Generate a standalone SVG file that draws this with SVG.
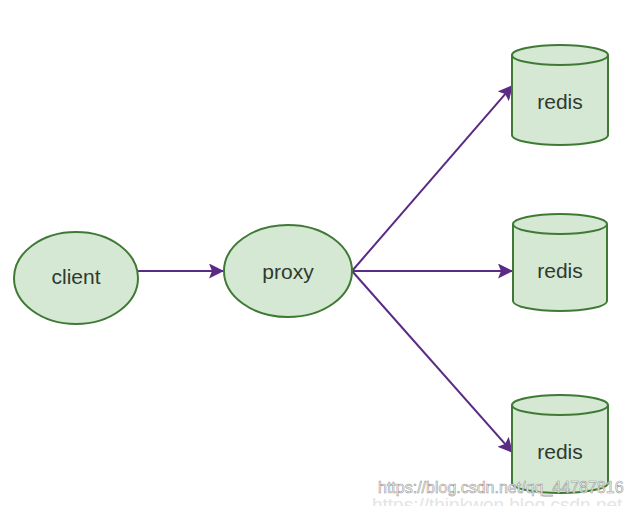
<svg xmlns="http://www.w3.org/2000/svg" width="631" height="506" viewBox="0 0 631 506">
<defs>
<style>
.node{fill:#d5e8d4;stroke:#3f7a35;stroke-width:2}
.lbl{font-family:"Liberation Sans",Arial,sans-serif;font-size:21px;fill:#2f3a2f;text-anchor:middle}
.edge{stroke:#5a2a84;stroke-width:2;fill:none}
.wm{font-family:"Liberation Sans",Arial,sans-serif}
</style>
<marker id="arr" viewBox="0 0 10 10" refX="10" refY="5" markerWidth="7.5" markerHeight="7.5" markerUnits="strokeWidth" orient="auto">
<path d="M0,0 L10,5 L0,10 L2,5 Z" fill="#5a2a84"/>
</marker>
</defs>
<rect width="631" height="506" fill="#ffffff"/>
<g id="connectors">
<line class="edge" x1="138" y1="271" x2="224" y2="271" marker-end="url(#arr)"/>
<line class="edge" x1="352" y1="271" x2="513" y2="85" marker-end="url(#arr)"/>
<line class="edge" x1="352" y1="271" x2="513" y2="271" marker-end="url(#arr)"/>
<line class="edge" x1="352" y1="271" x2="513" y2="453" marker-end="url(#arr)"/>
</g>
<g id="client">
<ellipse class="node" cx="76" cy="278" rx="62" ry="46"/>
<text class="lbl" x="76" y="284">client</text>
</g>
<g id="proxy">
<ellipse class="node" cx="288" cy="271" rx="64" ry="46"/>
<text class="lbl" x="288" y="279">proxy</text>
</g>
<g id="redis1">
<path class="node" d="M512,55 A48,10 0 0 1 608,55 L608,135 A48,10 0 0 1 512,135 Z"/>
<path class="node" d="M512,55 A48,10 0 0 0 608,55" fill="none"/>
<text class="lbl" x="560" y="109">redis</text>
</g>
<g id="redis2">
<path class="node" d="M513,224 A47,10 0 0 1 607,224 L607,301 A47,10 0 0 1 513,301 Z"/>
<path class="node" d="M513,224 A47,10 0 0 0 607,224" fill="none"/>
<text class="lbl" x="560" y="278">redis</text>
</g>
<g id="redis3">
<path class="node" d="M512,405 A48,10 0 0 1 608,405 L608,483 A48,10 0 0 1 512,483 Z"/>
<path class="node" d="M512,405 A48,10 0 0 0 608,405" fill="none"/>
<text class="lbl" x="560" y="459">redis</text>
</g>
<g id="watermark">
<text class="wm" x="372" y="511" font-size="19" fill="#e4e4e4">https://thinkwon.blog.csdn.net</text>
<text class="wm" x="378" y="493" font-size="16" fill="#ffffff" stroke="#9a9a9a" stroke-width="0.6">https://blog.csdn.net/qq_44787816</text>
</g>
</svg>
